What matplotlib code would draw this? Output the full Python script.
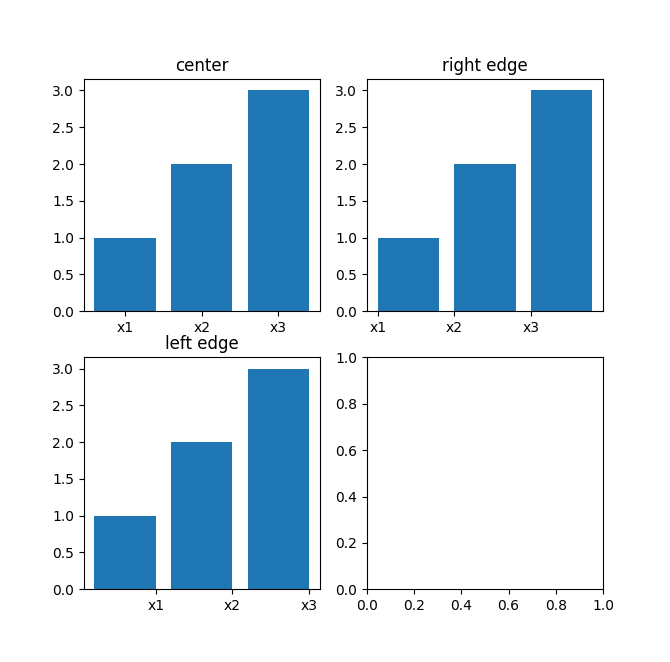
import matplotlib
matplotlib.use("Agg")
import matplotlib.pyplot as plt

categories = ["x1", "x2", "x3"]
positions = [0, 1, 2]
values = [1, 2, 3]

fig, axs = plt.subplots(2, 2, figsize=(6.7, 6.62), dpi=100)

ax = axs[0, 0]
ax.bar(positions, values, width=0.8, align="center", tick_label=categories)
ax.set_title("center")

ax = axs[0, 1]
ax.bar(positions, values, width=0.8, align="edge", tick_label=categories)
ax.set_title("right edge")

ax = axs[1, 0]
ax.bar(positions, values, width=-0.8, align="edge", tick_label=categories)
ax.set_title("left edge")

fig.savefig("out.png", dpi=100)
